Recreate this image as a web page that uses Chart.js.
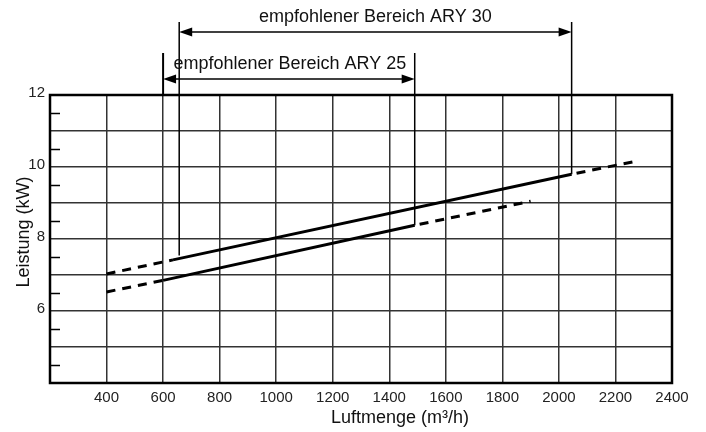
<!DOCTYPE html>
<html>
<head>
<meta charset="utf-8">
<script src="https://cdn.jsdelivr.net/npm/chart.js@4/dist/chart.umd.min.js"></script>
<style>
  html, body { margin: 0; padding: 0; background: #fff; }
  canvas { display: block; }
</style>
</head>
<body>
<canvas id="c" width="706" height="432"></canvas>
<script>
// Airflow (m³/h) against heating output (kW)
const upperFlow  = [400, 635, 2045, 2260];
const upperPower = [7.03, 7.42, 9.80, 10.14];
const lowerFlow  = [400, 600, 1490, 1900];
const lowerPower = [6.53, 6.85, 8.38, 9.05];

// segment styles along each curve: dashed outside the recommended range
const segmentKinds = ['dashed', 'solid', 'dashed'];

// recommended ranges (m³/h)
const rangeARY30 = [657, 2045];
const rangeARY25 = [600, 1490];
const rangeLabels = ['empfohlener Bereich ARY 30', 'empfohlener Bereich ARY 25'];

const xTitle = 'Luftmenge (m³/h)';
const yTitle = 'Leistung (kW)';
const xTickValues = [400, 600, 800, 1000, 1200, 1400, 1600, 1800, 2000, 2200, 2400];
const yTickValues = [6, 8, 10, 12];

const FONT = "'Liberation Sans', Arial, sans-serif";
const DASH = [9, 7];

function segments(xs, ys) {
  const out = [];
  for (let i = 0; i < xs.length - 1; i++) {
    const kind = segmentKinds[i];
    out.push({
      data: [{ x: xs[i], y: ys[i] }, { x: xs[i + 1], y: ys[i + 1] }],
      showLine: true,
      pointRadius: 0,
      borderColor: '#000',
      borderWidth: 3,
      borderCapStyle: 'butt',
      borderDash: kind === 'dashed' ? DASH : [],
      borderDashOffset: (kind === 'dashed' && i > 0) ? 11 : 0
    });
  }
  return out;
}

function valueAt(xs, ys, x) {
  for (let i = 0; i < xs.length - 1; i++) {
    if (x >= xs[i] && x <= xs[i + 1]) {
      const t = (x - xs[i]) / (xs[i + 1] - xs[i]);
      return ys[i] + t * (ys[i + 1] - ys[i]);
    }
  }
  return ys[ys.length - 1];
}

function arrowHead(ctx, x, y, dir) {
  ctx.beginPath();
  ctx.moveTo(x, y);
  ctx.lineTo(x - dir * 13, y - 4.5);
  ctx.lineTo(x - dir * 13, y + 4.5);
  ctx.closePath();
  ctx.fill();
}

function rangeArrow(ctx, x1, x2, y) {
  ctx.lineWidth = 1.5;
  ctx.beginPath();
  ctx.moveTo(x1 + 6, y);
  ctx.lineTo(x2 - 6, y);
  ctx.stroke();
  arrowHead(ctx, x1, y, -1);
  arrowHead(ctx, x2, y, 1);
}

const decorations = {
  id: 'decorations',
  afterDraw(chart) {
    const ctx = chart.ctx;
    const a = chart.chartArea;
    const xs = chart.scales.x, ys = chart.scales.y;
    ctx.save();
    ctx.strokeStyle = '#000';
    ctx.fillStyle = '#000';

    // half-unit minor ticks on the left edge
    ctx.lineWidth = 1.5;
    for (let v = ys.min + 0.5; v < ys.max; v += 1) {
      const py = Math.round(ys.getPixelForValue(v)) + 0.5;
      ctx.beginPath();
      ctx.moveTo(a.left, py);
      ctx.lineTo(a.left + 10, py);
      ctx.stroke();
    }

    // frame
    ctx.lineWidth = 2.5;
    ctx.strokeRect(a.left, a.top, a.right - a.left, a.bottom - a.top);

    // ARY 30 range
    const p30a = xs.getPixelForValue(rangeARY30[0]);
    const p30b = xs.getPixelForValue(rangeARY30[1]);
    ctx.lineWidth = 1.5;
    ctx.beginPath();
    ctx.moveTo(p30a, 22);
    ctx.lineTo(p30a, ys.getPixelForValue(valueAt(upperFlow, upperPower, rangeARY30[0])) - 3);
    ctx.moveTo(p30b, 22);
    ctx.lineTo(p30b, ys.getPixelForValue(valueAt(upperFlow, upperPower, rangeARY30[1])));
    ctx.stroke();
    rangeArrow(ctx, p30a, p30b, 32);

    // ARY 25 range
    const p25a = xs.getPixelForValue(rangeARY25[0]);
    const p25b = xs.getPixelForValue(rangeARY25[1]);
    ctx.lineWidth = 2;
    ctx.beginPath();
    ctx.moveTo(p25a, 53);
    ctx.lineTo(p25a, a.top);
    ctx.stroke();
    ctx.lineWidth = 1.5;
    ctx.beginPath();
    ctx.moveTo(p25b, 53);
    ctx.lineTo(p25b, ys.getPixelForValue(valueAt(lowerFlow, lowerPower, rangeARY25[1])));
    ctx.stroke();
    rangeArrow(ctx, p25a, p25b, 79);

    // range captions
    ctx.font = '18px ' + FONT;
    ctx.textAlign = 'center';
    ctx.textBaseline = 'alphabetic';
    ctx.fillStyle = '#111';
    ctx.fillText(rangeLabels[0], (p30a + p30b) / 2, 22);
    ctx.fillText(rangeLabels[1], (p25a + p25b) / 2 + 1, 69);

    // axis titles
    ctx.fillText(xTitle, 400, 423);
    ctx.save();
    ctx.translate(29, (a.top + a.bottom) / 2 - 7);
    ctx.rotate(-Math.PI / 2);
    ctx.fillText(yTitle, 0, 0);
    ctx.restore();

    ctx.restore();
  }
};

new Chart(document.getElementById('c'), {
  type: 'scatter',
  data: {
    datasets: [
      ...segments(upperFlow, upperPower),
      ...segments(lowerFlow, lowerPower)
    ]
  },
  options: {
    responsive: false,
    animation: false,
    layout: { padding: { top: 95, right: 34, left: 0, bottom: 0 } },
    plugins: { legend: { display: false }, tooltip: { enabled: false } },
    scales: {
      x: {
        type: 'linear',
        min: 200,
        max: 2400,
        afterFit: s => { s.height = 49; },
        grid: { color: '#333', lineWidth: 1.5, drawTicks: false },
        border: { display: false },
        ticks: {
          stepSize: 200,
          autoSkip: false,
          maxRotation: 0,
          padding: 6,
          color: '#222',
          font: { family: FONT, size: 15 },
          callback: v => xTickValues.includes(v) ? String(v) : ''
        }
      },
      y: {
        min: 4,
        max: 12,
        afterFit: s => { s.width = 50; },
        grid: { color: '#333', lineWidth: 1.5, drawTicks: false },
        border: { display: false },
        ticks: {
          stepSize: 1,
          autoSkip: false,
          padding: 5,
          labelOffset: -2,
          color: '#222',
          font: { family: FONT, size: 15 },
          callback: v => yTickValues.includes(v) ? String(v) : ''
        }
      }
    }
  },
  plugins: [decorations]
});
</script>
</body>
</html>
